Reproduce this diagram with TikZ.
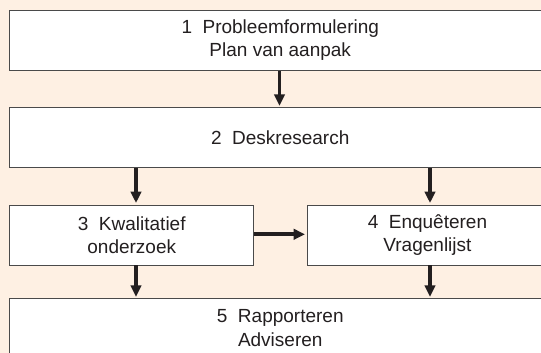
\documentclass[tikz,border=0pt]{standalone}
\usepackage{fontspec}
\setmainfont{Liberation Sans}
\usetikzlibrary{arrows.meta}
\definecolor{bg}{HTML}{FEF0E3}
\definecolor{ln}{HTML}{231F20}
\definecolor{bd}{HTML}{4A4A4A}
\begin{document}
\begin{tikzpicture}[x=1pt,y=-1pt,
  box/.style={draw=bd, line width=0.9pt, fill=white, inner sep=0pt, anchor=north west,
    align=center, text=ln, font=\fontsize{19}{23.3}\selectfont},
  arr/.style={draw=ln, line width=3.8pt, shorten >=1.5pt,
    -{Triangle[length=11.5pt,width=10.5pt]}}]
\useasboundingbox (0,0) rectangle (541,353);
\clip (0,0) rectangle (541,353);
\fill[bg] (0,0) rectangle (541,353);
% boxes
\node[box, minimum width=541pt, minimum height=60.5pt] (b1) at (9.3,9.7)
  {1\ \ Probleemformulering\\Plan van aanpak};
\node[box, minimum width=541pt, minimum height=60pt] (b2) at (9.3,107.3)
  {2\ \ Deskresearch};
\node[box, minimum width=244pt, minimum height=60pt] (b3) at (9.3,204.5)
  {3\ \ Kwalitatief\\onderzoek};
\node[box, minimum width=241pt, minimum height=60pt] (b4) at (306.5,204.5)
  {4\ \ Enquêteren\\Vragenlijst};
\node[box, minimum width=541pt, minimum height=58.4pt] (b5) at (9.3,298.3)
  {5\ \ Rapporteren\\Adviseren};
% connector columns
\coordinate (xa) at (279.5,0);
\coordinate (xl) at (136,0);
\coordinate (xr) at (430,0);
\coordinate (ym) at (0,234.3);
% arrows
\draw[arr] (xa |- b1.south) -- (xa |- b2.north);
\draw[arr] (xl |- b2.south) -- (xl |- b3.north);
\draw[arr] (xr |- b2.south) -- (xr |- b4.north);
\draw[arr] (b3.east |- ym) -- (b4.west |- ym);
\draw[arr] (xl |- b3.south) -- (xl |- b5.north);
\draw[arr] (xr |- b4.south) -- (xr |- b5.north);
\end{tikzpicture}
\end{document}
